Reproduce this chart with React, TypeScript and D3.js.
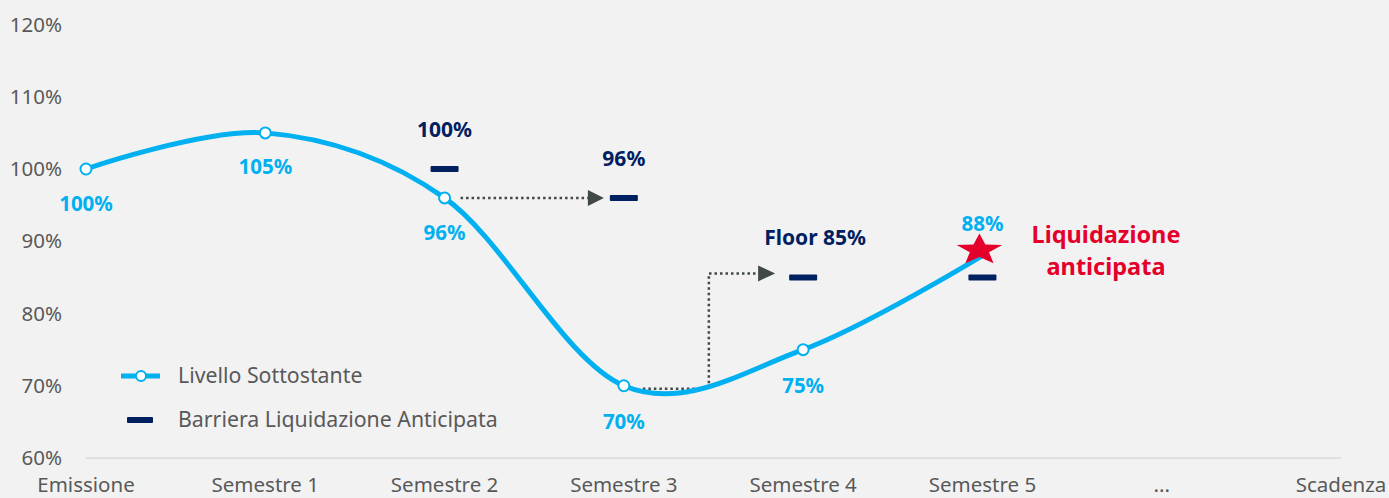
import React from "react";
import * as d3 from "d3";

const categories = ["Emissione", "Semestre 1", "Semestre 2", "Semestre 3", "Semestre 4", "Semestre 5", "...", "Scadenza"];
const livello = [100, 105, 96, 70, 75, 88];
const barrierCats = ["Semestre 2", "Semestre 3", "Semestre 4", "Semestre 5"];
const barrierValues = [100, 96, 85, 85];
const barrierLabels = ["100%", "96%", "Floor 85%", ""];
const yTicks = [60, 70, 80, 90, 100, 110, 120];

const W = 1389;
const H = 498;
const BG = "#f2f2f2";
const BLUE = "#00B0F0";
const NAVY = "#002060";
const RED = "#E4002B";
const GREY = "#595959";
const ARROW = "#404848";
const FONT = "'Noto Sans', Lato, sans-serif";

const x = d3.scalePoint<string>().domain(categories).range([86, 1341]);
const y = d3.scaleLinear().domain([60, 120]).range([458, 24.5]);

function starPath(cx: number, cy: number, rx: number, ry: number, inner: number) {
  const pts: [number, number][] = [];
  for (let i = 0; i < 10; i++) {
    const a = -Math.PI / 2 + (i * Math.PI) / 5;
    const r = i % 2 === 0 ? 1 : inner;
    pts.push([cx + Math.cos(a) * rx * r, cy + Math.sin(a) * ry * r]);
  }
  return "M" + pts.map((p) => p.join(",")).join("L") + "Z";
}

export default function App() {
  const pts: [number, number][] = livello.map((v, i) => [x(categories[i])!, y(v)]);
  const line = d3.line().curve(d3.curveCatmullRom.alpha(0))(pts) || "";
  const belowOffsets = [42, 41, 42, 43, 43, -25];
  const barrierLabelDx = [0, 0, 12, 0];

  const s2 = x("Semestre 2")!;
  const s3 = x("Semestre 3")!;
  const s4 = x("Semestre 4")!;
  const s5 = x("Semestre 5")!;
  const yb96 = y(96);
  const y70 = y(70) + 3;
  const y85 = y(85) - 4;
  const vx = s3 + 85;

  return (
    <svg width={W} height={H} style={{ position: "absolute", left: 0, top: 0, background: BG }} fontFamily={FONT}>
      <rect x={0} y={0} width={W} height={H} fill={BG} />
      {/* axis line */}
      <line x1={x(categories[0])!} x2={x(categories[categories.length - 1])!} y1={y(60)} y2={y(60)} stroke="#d9d9d9" strokeWidth={1.5} />
      {/* y tick labels */}
      {yTicks.map((t) => (
        <text key={t} x={62} y={y(t)} dy="0.35em" textAnchor="end" fontSize={20.5} fill={GREY}>
          {t}%
        </text>
      ))}
      {/* x labels */}
      {categories.map((c) => (
        <text key={c} x={x(c)!} y={492} textAnchor="middle" fontSize={20.5} fill={GREY}>
          {c}
        </text>
      ))}
      {/* dotted arrows */}
      <line x1={s2 + 16} x2={s3 - 36} y1={yb96} y2={yb96} stroke={ARROW} strokeWidth={2.5} strokeDasharray="2.5 3" />
      <path d={`M${s3 - 36},${yb96 - 8}L${s3 - 20},${yb96}L${s3 - 36},${yb96 + 8}Z`} fill={ARROW} />
      <path
        d={`M${s3 + 19},${y70}L${vx},${y70}L${vx},${y85}L${s4 - 45},${y85}`}
        fill="none"
        stroke={ARROW}
        strokeWidth={2.5}
        strokeDasharray="2.5 3"
      />
      <path d={`M${s4 - 45},${y85 - 8}L${s4 - 28},${y85}L${s4 - 45},${y85 + 8}Z`} fill={ARROW} />
      {/* barrier dashes */}
      {barrierCats.map((c, i) => (
        <rect key={c} x={x(c)! - 14} y={y(barrierValues[i]) - 3} width={28} height={6} rx={1} fill={NAVY} />
      ))}
      {/* barrier labels */}
      {barrierCats.map((c, i) => (
        <text
          key={c + "l"}
          x={x(c)! + barrierLabelDx[i]}
          y={y(barrierValues[i]) - 32}
          textAnchor="middle"
          fontSize={21}
          fontWeight={700}
          fill={NAVY}
        >
          {barrierLabels[i]}
        </text>
      ))}
      {/* line */}
      <path d={line} fill="none" stroke={BLUE} strokeWidth={5} strokeLinecap="round" />
      {pts.slice(0, 5).map((p, i) => (
        <circle key={i} cx={p[0]} cy={p[1]} r={5.5} fill="#fff" stroke={BLUE} strokeWidth={2} />
      ))}
      {/* star */}
      <path d={starPath(s5 - 3, 250, 24, 16.5, 0.42)} fill={RED} />
      {/* point labels */}
      {pts.map((p, i) => (
        <text key={"pl" + i} x={p[0]} y={p[1] + belowOffsets[i]} textAnchor="middle" fontSize={20.5} fontWeight={700} fill={BLUE}>
          {livello[i]}%
        </text>
      ))}
      {/* annotation */}
      <text x={1106} y={243} textAnchor="middle" fontSize={23.5} fontWeight={700} fill={RED}>
        Liquidazione
      </text>
      <text x={1106} y={275} textAnchor="middle" fontSize={23.5} fontWeight={700} fill={RED}>
        anticipata
      </text>
      {/* legend */}
      <line x1={121} x2={160} y1={376} y2={376} stroke={BLUE} strokeWidth={5} />
      <circle cx={141} cy={376} r={5} fill="#fff" stroke={BLUE} strokeWidth={2} />
      <text x={178} y={376} dy="0.35em" fontSize={21.3} fill={GREY}>
        Livello Sottostante
      </text>
      <rect x={127} y={417} width={26} height={6} rx={1} fill={NAVY} />
      <text x={178} y={420} dy="0.35em" fontSize={21.3} fill={GREY}>
        Barriera Liquidazione Anticipata
      </text>
    </svg>
  );
}
